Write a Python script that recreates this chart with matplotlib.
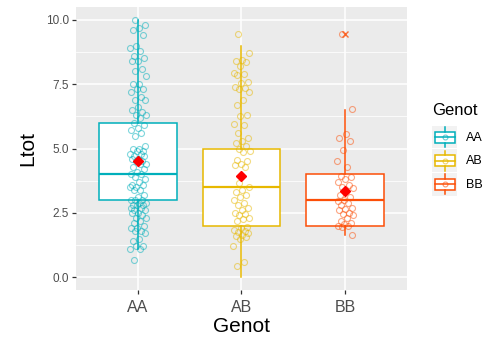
import numpy as np
import matplotlib.pyplot as plt
from matplotlib.patches import Rectangle

plt.rcParams['font.family'] = ['Liberation Sans', 'DejaVu Sans']

# --- data ---
genot = ["AA", "AB", "BB"]
colors = ["#00AFBB", "#E7B800", "#FC4E07"]

ltot_aa = [10.0, 9.8, 9.7, 9.6, 9.4, 9.0, 8.9, 8.8, 8.6, 8.5, 8.4, 8.4, 8.1, 8.0, 7.8,
           7.5, 7.5, 7.3, 7.3, 7.2, 7.0, 6.9, 6.9, 6.6, 6.5, 6.4, 6.3, 6.3, 6.2,
           6.0, 5.9, 5.8, 5.7, 5.6, 5.5,
           5.1, 5.0, 5.0, 4.9, 4.9, 4.8, 4.8, 4.7, 4.7, 4.6, 4.6, 4.5, 4.5, 4.4, 4.4, 4.3, 4.2,
           4.1, 4.0, 4.0, 3.9, 3.8, 3.7, 3.6, 3.6, 3.5, 3.5, 3.4, 3.4,
           3.2, 3.1, 3.0, 3.0, 3.0, 2.9, 2.9, 2.8, 2.8, 2.8, 2.7, 2.7, 2.6, 2.6, 2.5, 2.5,
           2.4, 2.3, 2.3, 2.2, 2.1, 2.0, 1.9, 1.9, 1.8, 1.8, 1.7, 1.5,
           1.4, 1.2, 1.2, 1.1, 1.1, 0.65]
ltot_ab = [9.45, 8.7, 8.45, 8.4, 8.35, 8.2, 7.95, 7.9, 7.85, 7.6, 7.55, 7.4, 7.35, 7.3, 7.2,
           6.9, 6.7, 6.3, 6.25,
           5.95, 5.9, 5.6, 5.4, 5.3, 5.2, 5.1, 5.0, 4.9, 4.85, 4.55, 4.5, 4.4, 4.35, 4.3,
           3.65, 3.5, 3.4, 3.3, 3.2, 3.1, 3.0, 2.9, 2.8, 2.7, 2.6,
           2.5, 2.45, 2.4, 2.3, 2.25, 2.2, 1.95, 1.9, 1.85, 1.8, 1.75, 1.7, 1.65, 1.6,
           1.55, 1.5, 1.2, 0.6, 0.45]
ltot_bb = [9.45, 6.55, 5.55, 5.4, 5.3, 4.95, 4.5, 4.3,
           3.95, 3.9, 3.8, 3.7, 3.6, 3.5, 3.45, 3.35,
           3.2, 3.1, 3.0, 2.95, 2.9, 2.8, 2.7, 2.65, 2.6, 2.5, 2.45, 2.4, 2.3, 2.2,
           2.1, 2.05, 2.0, 2.0, 1.95, 1.65]

# box summaries per genotype
q1 = [3.0, 2.0, 2.0]
median = [4.0, 3.5, 3.0]
q3 = [6.0, 5.0, 4.0]
whis_lo = [1.1, 0.0, 1.65]
whis_hi = [10.0, 9.0, 6.5]
outliers = [[], [], [9.45]]
means = [4.5, 3.95, 3.35]

groups = [ltot_aa, ltot_ab, ltot_bb]

fig = plt.figure(figsize=(4.85, 3.37), dpi=100)
ax = fig.add_axes([76 / 485, 1 - 290 / 337, 331 / 485, 283 / 337])
ax.set_facecolor("#EBEBEB")
for s in ax.spines.values():
    s.set_visible(False)

ax.set_xlim(0.4, 3.6)
ax.set_ylim(-0.5, 10.5)
ax.set_yticks([0, 2.5, 5, 7.5, 10])
ax.set_yticklabels(["0.0", "2.5", "5.0", "7.5", "10.0"])
ax.set_yticks([1.25, 3.75, 6.25, 8.75], minor=True)
ax.set_xticks([1, 2, 3])
ax.set_xticklabels(genot)
ax.grid(True, which="major", color="white", lw=1.1)
ax.grid(True, which="minor", axis="y", color="white", lw=0.55)
ax.set_axisbelow(True)
ax.tick_params(axis="both", which="major", color="#333333", length=3, width=0.9)
ax.tick_params(axis="y", which="minor", length=0)
ax.tick_params(axis="y", labelsize=8.5, labelcolor="#4D4D4D", pad=2)
ax.tick_params(axis="x", labelsize=11.5, labelcolor="#4D4D4D", pad=4)

# boxplots
stats = []
for i in range(3):
    stats.append(dict(q1=q1[i], med=median[i], q3=q3[i], whislo=whis_lo[i],
                      whishi=whis_hi[i], fliers=outliers[i], label=genot[i]))
bp = ax.bxp(stats, positions=[1, 2, 3], widths=0.75, showcaps=False,
            patch_artist=True, manage_ticks=False)
for i, c in enumerate(colors):
    bp["boxes"][i].set(facecolor="white", edgecolor=c, lw=1.1, zorder=2)
    bp["medians"][i].set(color=c, lw=1.6, zorder=2)
    for w in bp["whiskers"][2 * i:2 * i + 2]:
        w.set(color=c, lw=1.1, zorder=2)
    bp["fliers"][i].set(marker="x", markeredgecolor=c, markersize=5, mew=1.0,
                        alpha=0.8, zorder=3)

# jittered points (fixed golden-ratio spread around each category)
for i, vals in enumerate(groups):
    n = len(vals)
    offs = ((np.arange(n) * 0.618034 + 0.31) % 1.0 - 0.5) * 0.16
    ax.plot(i + 1 + offs, vals, "o", ms=4.3, mfc="none", mec=colors[i],
            mew=0.8, alpha=0.5, zorder=3)

# group means
ax.plot([1, 2, 3], means, "D", color="red", ms=5, zorder=4, ls="none")

ax.set_xlabel("Genot", fontsize=15, labelpad=2)
ax.set_ylabel("Ltot", fontsize=15, labelpad=6)

# legend drawn by hand with boxplot keys
fig.text(432 / 485, 1 - 111 / 337, "Genot", fontsize=12, va="center", ha="left")
key_tops = [126, 149.5, 173]
for i, c in enumerate(colors):
    kax = fig.add_axes([432 / 485, 1 - (key_tops[i] + 22.5) / 337, 25 / 485, 22.5 / 337])
    kax.set_facecolor("#F2F2F2")
    kax.set_xlim(0, 1)
    kax.set_ylim(0, 1)
    kax.set_xticks([])
    kax.set_yticks([])
    for s in kax.spines.values():
        s.set_visible(False)
    kax.plot([0.5, 0.5], [0.05, 0.25], color=c, lw=1.1)
    kax.plot([0.5, 0.5], [0.75, 0.95], color=c, lw=1.1)
    kax.add_patch(Rectangle((0.1, 0.25), 0.8, 0.5, facecolor="white", edgecolor=c, lw=1.1))
    kax.plot([0.1, 0.9], [0.5, 0.5], color=c, lw=1.1)
    kax.plot(0.5, 0.5, "o", ms=3.5, mfc="none", mec=c, mew=0.8, alpha=0.6)
    fig.text(466 / 485, 1 - (key_tops[i] + 11.5) / 337, genot[i], fontsize=9,
             va="center", ha="left")

fig.savefig("out.png", dpi=100)
